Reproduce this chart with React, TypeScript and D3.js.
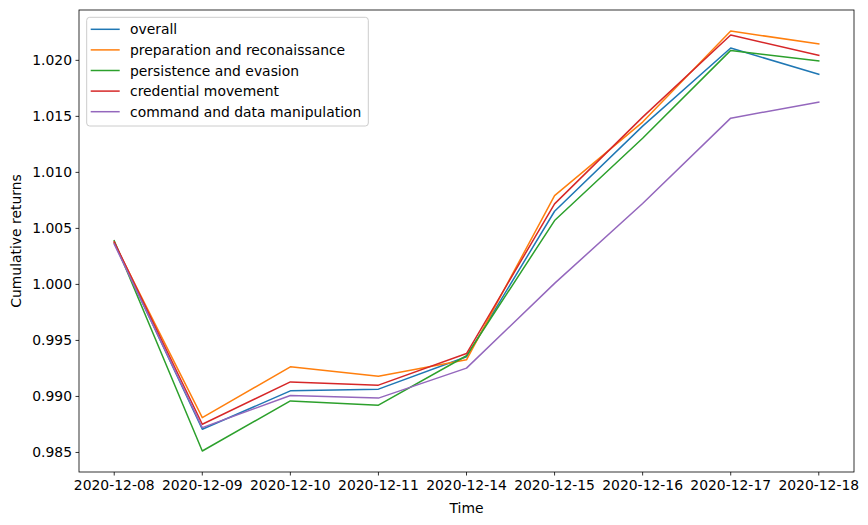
import * as d3 from "d3";

const dates = [
  "2020-12-08", "2020-12-09", "2020-12-10", "2020-12-11", "2020-12-14",
  "2020-12-15", "2020-12-16", "2020-12-17", "2020-12-18",
];

const overall = [1.0037, 0.98707, 0.9905, 0.99065, 0.99354, 1.00653, 1.01413, 1.0211, 1.01875];
const preparation = [1.0037, 0.98811, 0.99264, 0.99181, 0.99327, 1.00793, 1.01449, 1.02262, 1.02146];
const persistence = [1.0039, 0.98513, 0.9896, 0.98922, 0.99363, 1.0057, 1.01305, 1.02089, 1.01994];
const credential = [1.0038, 0.98752, 0.9913, 0.99101, 0.99383, 1.00719, 1.01493, 1.02226, 1.02045];
const command = [1.0036, 0.98722, 0.99008, 0.98985, 0.99253, 1.00009, 1.00722, 1.01484, 1.01627];

const seriesNames = [
  "overall",
  "preparation and reconaissance",
  "persistence and evasion",
  "credential movement",
  "command and data manipulation",
];
const seriesValues = [overall, preparation, persistence, credential, command];

const yTickValues = [0.985, 0.99, 0.995, 1.0, 1.005, 1.01, 1.015, 1.02];

const colors = ["#1f77b4", "#ff7f0e", "#2ca02c", "#d62728", "#9467bd"];

const width = 868;
const height = 525;
const margin = { top: 10, right: 14, bottom: 53, left: 79 };
const font = "DejaVu Sans, sans-serif";

export default function App() {
  const all = seriesValues.flat();
  const [lo, hi] = d3.extent(all) as [number, number];
  const pad = (hi - lo) * 0.05;

  const n = dates.length;
  // matplotlib-like 5% margins on the category index
  const xScale = d3.scaleLinear()
    .domain([-(n - 1) * 0.05, (n - 1) * 1.05])
    .range([margin.left, width - margin.right]);

  const yScale = d3.scaleLinear()
    .domain([lo - pad, hi + pad])
    .range([height - margin.bottom, margin.top]);

  const line = d3.line<number>()
    .x((_, i) => xScale(i))
    .y(d => yScale(d));

  const x0 = margin.left;
  const x1 = width - margin.right;
  const y0 = height - margin.bottom;
  const y1 = margin.top;

  return (
    <svg
      width={width}
      height={height}
      style={{ position: "absolute", left: 0, top: 0, background: "#fff" }}
      fontFamily={font}
    >
      <rect x={0} y={0} width={width} height={height} fill="#fff" />

      {/* Lines */}
      {seriesValues.map((vals, s) => (
        <path
          key={seriesNames[s]}
          d={line(vals) ?? ""}
          fill="none"
          stroke={colors[s]}
          strokeWidth={1.5}
          strokeLinejoin="round"
          strokeLinecap="square"
        />
      ))}

      {/* Frame */}
      <rect x={x0} y={y1} width={x1 - x0} height={y0 - y1} fill="none" stroke="#000" strokeWidth={0.8} />

      {/* Y ticks */}
      {yTickValues.map(t => (
        <g key={t}>
          <line x1={x0 - 3.5} x2={x0} y1={yScale(t)} y2={yScale(t)} stroke="#000" strokeWidth={0.8} />
          <text
            x={x0 - 7}
            y={yScale(t)}
            textAnchor="end"
            dominantBaseline="central"
            fontSize={13.9}
            fill="#000"
          >
            {t.toFixed(3)}
          </text>
        </g>
      ))}

      {/* X ticks */}
      {dates.map((d, i) => (
        <g key={d}>
          <line x1={xScale(i)} x2={xScale(i)} y1={y0} y2={y0 + 3.5} stroke="#000" strokeWidth={0.8} />
          <text
            x={xScale(i)}
            y={y0 + 7}
            dy="0.76em"
            textAnchor="middle"
            fontSize={13.9}
            fill="#000"
          >
            {d}
          </text>
        </g>
      ))}

      {/* Axis labels */}
      <text x={(x0 + x1) / 2} y={y0 + 30} dy="0.76em" textAnchor="middle" fontSize={13.9}>
        Time
      </text>
      <text
        transform={`translate(${21},${(y0 + y1) / 2}) rotate(-90)`}
        textAnchor="middle"
        fontSize={13.9}
      >
        Cumulative returns
      </text>

      {/* Legend */}
      <g>
        <rect
          x={86.7}
          y={17.3}
          width={281.6}
          height={108.7}
          rx={3}
          fill="#fff"
          fillOpacity={0.8}
          stroke="#ccc"
          strokeWidth={1}
        />
        {seriesNames.map((name, i) => {
          const ly = 29.3 + i * 20.6;
          return (
            <g key={name}>
              <line x1={90.7} x2={119.7} y1={ly} y2={ly} stroke={colors[i]} strokeWidth={1.5} />
              <text x={130} y={ly} dominantBaseline="central" fontSize={13.9} fill="#000">
                {name}
              </text>
            </g>
          );
        })}
      </g>
    </svg>
  );
}
